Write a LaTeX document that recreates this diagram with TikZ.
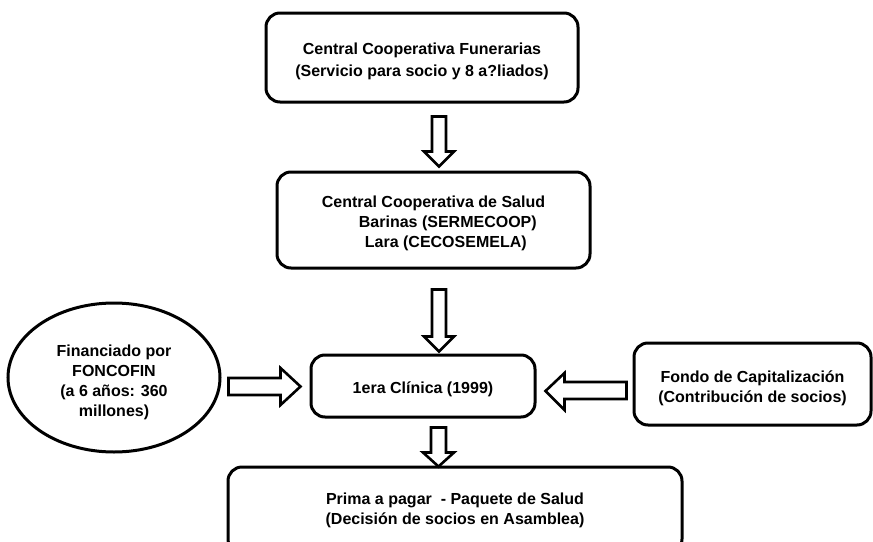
\documentclass[tikz,border=0pt]{standalone}
\usepackage{fontspec}
\setmainfont{Liberation Sans}
\usetikzlibrary{shapes.geometric,calc}
\newcommand{\liftby}[1]{\rule{0pt}{#1}}
\tikzset{
  box/.style={draw, line width=3pt, rounded corners=14pt, align=center,
    font=\bfseries\fontsize{16}{20}\selectfont, inner sep=0pt},
  oval/.style={draw, ellipse, line width=3pt, align=center,
    font=\bfseries\fontsize{16}{20}\selectfont, inner sep=0pt},
  barrow/.style={draw, line width=2.6pt, fill=white, line join=miter, miter limit=4}
}
\begin{document}
\begin{tikzpicture}[x=1pt,y=-1pt]
\useasboundingbox (0,0) rectangle (873,541);
\clip (0,0) rectangle (873,541);
\node[box, minimum width=312pt, minimum height=89pt, font=\bfseries\fontsize{16}{22}\selectfont]
  (top) at (422,57.5) {\liftby{20pt}Central Cooperativa Funerarias\\(Servicio para socio y 8 a?liados)};
\node[box, minimum width=313pt, minimum height=96pt, align=left]
  (mid) at (433.5,220) {\liftby{18pt}Central Cooperativa de Salud\\\hspace*{37pt}Barinas (SERMECOOP)\\\hspace*{43pt}Lara (CECOSEMELA)};
\node[box, minimum width=224pt, minimum height=62pt]
  (clin) at (423,386) {\liftby{18pt}1era Clínica (1999)};
\node[box, minimum width=237pt, minimum height=82pt]
  (fondo) at (752.5,384) {\liftby{20pt}Fondo de Capitalización\\(Contribución de socios)};
\node[box, minimum width=454pt, minimum height=86pt]
  (prima) at (455,510) {Prima a pagar\ \ - Paquete de Salud\\(Decisión de socios en Asamblea)};
\node[oval, minimum width=212pt, minimum height=149pt]
  (fin) at (114,377.5) {\liftby{22pt}Financiado por\\FONCOFIN\\(a 6 años: 360\\millones)};
% down arrows
\draw[barrow] let \p1=(top.south), \p2=(mid.north) in
  (432pt,\y1-13pt) -- (446pt,\y1-13pt) -- (446pt,\y2+19pt) -- (454pt,\y2+19pt)
  -- (439pt,\y2+4pt) -- (424pt,\y2+19pt) -- (432pt,\y2+19pt) -- cycle;
\draw[barrow] let \p1=(mid.south), \p2=(clin.north) in
  (432pt,\y1-20pt) -- (446pt,\y1-20pt) -- (446pt,\y2+17pt) -- (454pt,\y2+17pt)
  -- (439pt,\y2+2pt) -- (424pt,\y2+17pt) -- (432pt,\y2+17pt) -- cycle;
\draw[barrow] let \p1=(clin.south), \p2=(prima.north) in
  (431pt,\y1-9pt) -- (446pt,\y1-9pt) -- (446pt,\y2+13pt) -- (454pt,\y2+13pt)
  -- (438.5pt,\y2-1pt) -- (423pt,\y2+13pt) -- (431pt,\y2+13pt) -- cycle;
% horizontal arrows
\draw[barrow] let \p1=(fin.east), \p2=(clin.west) in
  (\x1+7pt,-378pt) -- (\x2-29pt,-378pt) -- (\x2-29pt,-368pt) -- (\x2-9pt,-386.5pt)
  -- (\x2-29pt,-405pt) -- (\x2-29pt,-395pt) -- (\x1+7pt,-395pt) -- cycle;
\draw[barrow] let \p1=(fondo.west), \p2=(clin.east) in
  (\x1-6pt,-382pt) -- (\x2+28pt,-382pt) -- (\x2+28pt,-373pt) -- (\x2+9pt,-391pt)
  -- (\x2+28pt,-410pt) -- (\x2+28pt,-399pt) -- (\x1-6pt,-399pt) -- cycle;
\end{tikzpicture}
\end{document}
